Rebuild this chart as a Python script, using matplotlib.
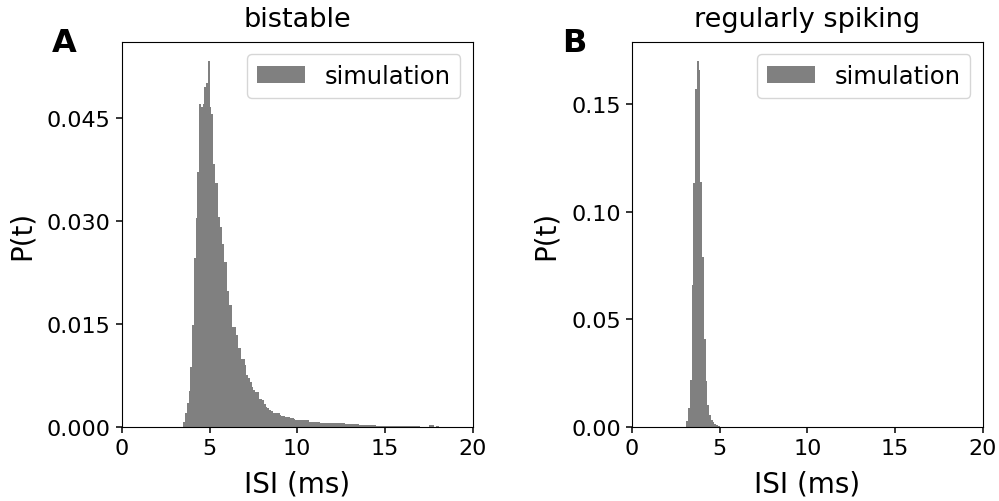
import numpy as np
import matplotlib
matplotlib.use('Agg')
import matplotlib.pyplot as plt

# ISI histograms, bin width 0.1 ms
bin_width = 0.1

bistable_start = 3.5
bistable_p = [0.0007, 0.0020, 0.0035, 0.0052, 0.0088, 0.0149, 0.0246, 0.0304, 0.0371, 0.0470,
              0.0465, 0.0470, 0.0494, 0.0500, 0.0533, 0.0466, 0.0455, 0.0383, 0.0355, 0.0355,
              0.0306, 0.0291, 0.0267, 0.0240, 0.0240, 0.0198, 0.0178, 0.0178, 0.0146, 0.0146,
              0.0134, 0.0115, 0.0115, 0.0099, 0.0099, 0.0091, 0.0076, 0.0071, 0.0065, 0.0059,
              0.0054, 0.0051, 0.0051, 0.0041, 0.0041, 0.0040, 0.0034, 0.0030, 0.0028, 0.0025,
              0.0024, 0.0021, 0.0021, 0.0021, 0.0020, 0.0018, 0.0017, 0.0016, 0.0015, 0.0015,
              0.0015, 0.0013, 0.0013, 0.0012, 0.0010, 0.0010, 0.0010, 0.0010, 0.0010, 0.0010,
              0.0010, 0.0010, 0.0007, 0.0008, 0.0007, 0.0007, 0.0007, 0.0007, 0.0006, 0.0006,
              0.0006, 0.0006, 0.0006, 0.0006, 0.0006, 0.0006, 0.0006, 0.0006, 0.0006, 0.0006,
              0.0006, 0.0006, 0.0004, 0.0004, 0.0004, 0.0004, 0.0004, 0.0004, 0.0004, 0.0004,
              0.0003, 0.0003, 0.0003, 0.0003, 0.0003, 0.0003, 0.0003, 0.0003, 0.0003, 0.0003,
              0.0002, 0.0002, 0.0002, 0.0002, 0.0002, 0.0002, 0.0002, 0.0002, 0.0002, 0.0002,
              0.0002, 0.0002, 0.0002, 0.0002, 0.0002, 0.0002, 0.0002, 0.0002, 0.0002, 0.0002,
              0.0002, 0.0002, 0.0002, 0.0002, 0.0002, 0.0001, 0.0001, 0.0001, 0.0001, 0.0001,
              0.0003, 0.0003, 0.0003, 0.0001, 0.0002, 0.0002]

regular_start = 3.1
regular_p = [0.0027, 0.0089, 0.0220, 0.0660, 0.1130, 0.1570, 0.1700, 0.1655, 0.1138, 0.0790,
             0.0410, 0.0212, 0.0104, 0.0058, 0.0035, 0.0022, 0.0013, 0.0008, 0.0004]

panels = [
    ("bistable", "A", bistable_start, bistable_p, [0, 0.015, 0.030, 0.045], "%.3f"),
    ("regularly spiking", "B", regular_start, regular_p, [0, 0.05, 0.10, 0.15], "%.2f"),
]
axes_left = [0.122, 0.6326]

fig = plt.figure(figsize=(9.99, 5.02), dpi=100)

for (title, letter, start, p, yt, fmt), left in zip(panels, axes_left):
    ax = fig.add_axes([left, 0.147, 0.351, 0.767])
    edges = start + bin_width * np.arange(len(p))
    ax.bar(edges, p, width=bin_width, align='edge', color='gray',
           linewidth=0, label='simulation')
    ax.set_xlim(0, 20)
    ax.set_xticks([0, 5, 10, 15, 20])
    ax.set_yticks(yt)
    ax.yaxis.set_major_formatter(matplotlib.ticker.FormatStrFormatter(fmt))
    ax.tick_params(labelsize=16, length=4.5, width=1.1)
    ax.set_xlabel("ISI (ms)", fontsize=20, labelpad=8)
    ax.set_ylabel("P(t)", fontsize=20, labelpad=8)
    ax.set_title(title, fontsize=19.5, pad=12)
    ax.legend(loc='upper right', fontsize=17.5)
    fig.text(left - 0.07, 0.896, letter, fontsize=23, fontweight='bold',
             ha='left', va='baseline')

plt.savefig('out.png', dpi=100)
